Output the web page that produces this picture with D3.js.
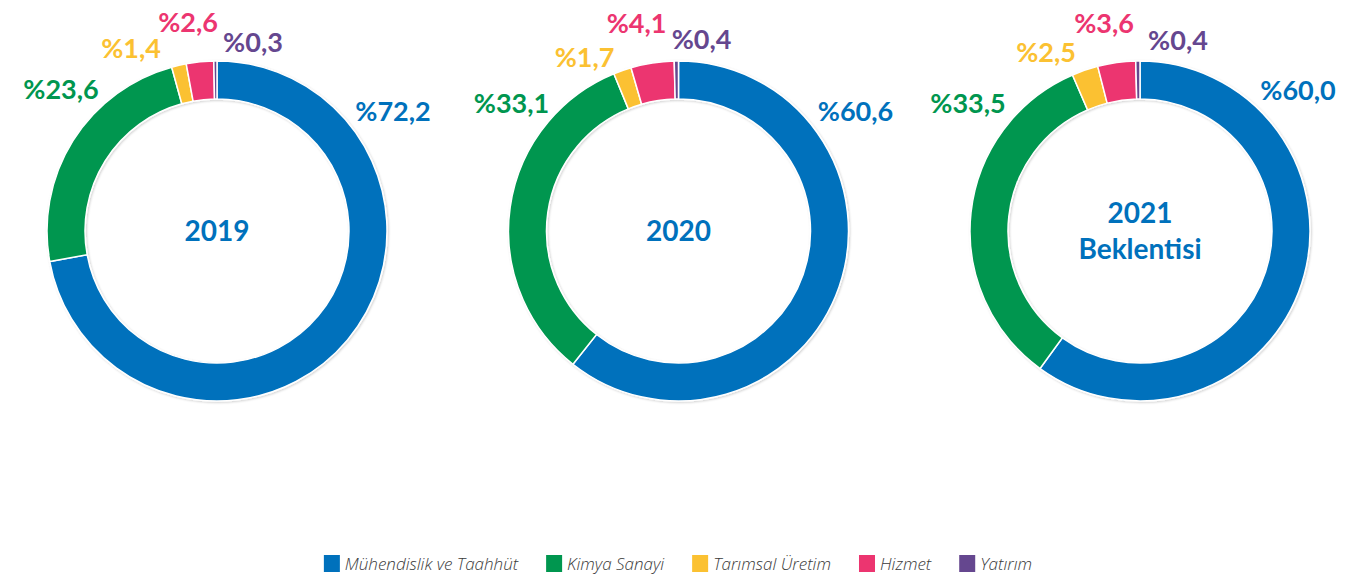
<!DOCTYPE html>
<html>
<head>
    <meta charset="utf-8">
    <title>donuts</title>
    <script src="https://d3js.org/d3.v7.min.js"></script>
    <style>
        body{margin:0;background:#fff;}
    </style>
</head>
<body>
    <script>
var w=1351;
var h=575;

// data
var categories=["Mühendislik ve Taahhüt","Kimya Sanayi","Tarımsal Üretim","Hizmet","Yatırım"];
var years=["2019","2020","2021 Beklentisi"];
var values2019=[72.2,23.6,1.4,2.6,0.3];
var values2020=[60.6,33.1,1.7,4.1,0.4];
var values2021=[60.0,33.5,2.5,3.6,0.4];
var allValues=[values2019,values2020,values2021];

var colors=d3.scaleOrdinal()
    .domain(categories)
    .range(["#0071bc","#00964f","#fbc132","#ec3570","#65478f"]);

// label placement relative to donut center (layout only)
var labelOffsets=[
    [[176,-120],[-156,-142],[-86,-183],[-29,-209],[36,-189]],
    [[177,-120],[-167,-128],[-94,-174],[-42,-208],[23,-192]],
    [[158,-141],[-172,-128],[-94,-179],[-36,-208],[38,-191]]
];

var outerR=170, innerR=132, cy=231;

var svg=d3.select("body")
    .append("svg")
    .attr("width",w)
    .attr("height",h);

// soft shadow round the rings
var filter=svg.append("defs").append("filter")
    .attr("id","shadow")
    .attr("x","-10%").attr("y","-10%")
    .attr("width","120%").attr("height","120%");
filter.append("feDropShadow")
    .attr("dx",1).attr("dy",1)
    .attr("stdDeviation",1.2)
    .attr("flood-color","#000")
    .attr("flood-opacity",0.18);

var xPos=d3.scalePoint()
    .domain(years)
    .range([217,1140]);

var pie=d3.pie()
    .sort(null)
    .value(function(d){return d;});

var arc=d3.arc()
    .innerRadius(innerR)
    .outerRadius(outerR);

var fmt=function(v){return "%"+d3.format(".1f")(v).replace(".",",");};

years.forEach(function(year,yi){
    var g=svg.append("g")
        .attr("transform","translate("+xPos(year)+","+cy+")");

    g.append("g")
        .attr("filter","url(#shadow)")
        .selectAll("path")
        .data(pie(allValues[yi]))
        .enter()
        .append("path")
        .attr("d",arc)
        .style("fill",function(d,i){return colors(categories[i]);})
        .style("stroke","#fff")
        .style("stroke-width",1.5);

    // percent labels
    g.selectAll("text.pct")
        .data(allValues[yi])
        .enter()
        .append("text")
        .attr("class","pct")
        .attr("x",function(d,i){return labelOffsets[yi][i][0];})
        .attr("y",function(d,i){return labelOffsets[yi][i][1];})
        .attr("dy","0.36em")
        .attr("text-anchor","middle")
        .style("font-family","Lato, 'Open Sans', sans-serif")
        .style("font-weight","bold")
        .style("font-size","27px")
        .style("fill",function(d,i){return colors(categories[i]);})
        .text(fmt);

    // center title
    var lines=year.split(" ");
    var t=g.append("text")
        .attr("text-anchor","middle")
        .style("font-family","Lato, 'Open Sans', sans-serif")
        .style("font-weight","bold")
        .style("font-size","28px")
        .style("fill","#0071bc");
    lines.forEach(function(l,li){
        t.append("tspan")
            .attr("x",0)
            .attr("y",(li-(lines.length-1)/2)*36)
            .attr("dy","0.36em")
            .text(l);
    });
});

// legend
var legend=svg.append("g");
var lx=0, gap=28;
categories.forEach(function(c,i){
    var item=legend.append("g").attr("transform","translate("+lx+",0)");
    item.append("rect")
        .attr("x",0).attr("y",-15)
        .attr("width",16).attr("height",17)
        .style("fill",colors(c));
    var tx=item.append("text")
        .attr("x",21)
        .attr("y",0)
        .style("font-family","'Open Sans', sans-serif")
        .style("font-style","italic")
        .style("font-weight","300")
        .style("font-size","17px")
        .style("fill","#3a3a3a")
        .text(c);
    lx+=21+tx.node().getComputedTextLength()+gap;
});
lx-=gap;
legend.attr("transform","translate("+(678-lx/2)+",570)");
    </script>
</body>
</html>
